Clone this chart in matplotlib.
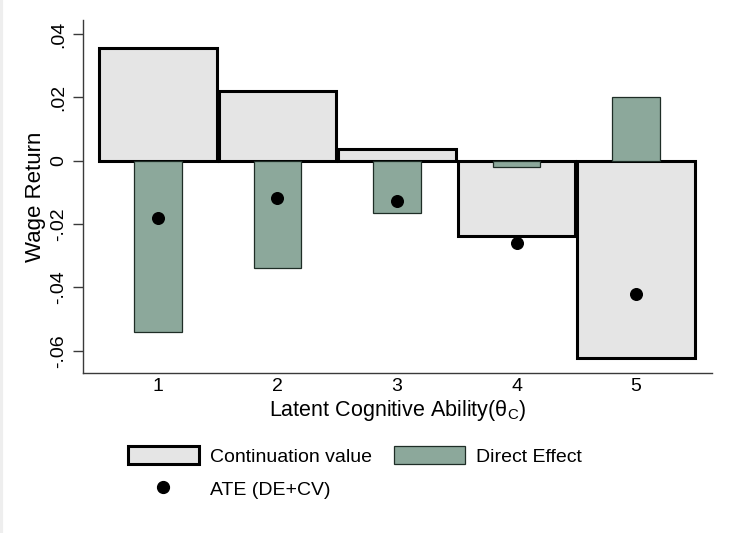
import numpy as np
import matplotlib
matplotlib.use("Agg")
import matplotlib.pyplot as plt
from matplotlib.lines import Line2D
from matplotlib.patches import Patch

plt.rcParams['font.family'] = ['Liberation Sans', 'DejaVu Sans']
plt.rcParams['mathtext.fontset'] = 'custom'
plt.rcParams['mathtext.rm'] = 'Liberation Sans'
plt.rcParams['mathtext.it'] = 'Liberation Sans:italic'

# wage return decomposition by latent cognitive ability quintile
quintiles = [1, 2, 3, 4, 5]
continuation_value = [0.0357, 0.0220, 0.0037, -0.0237, -0.0622]
direct_effect = [-0.0542, -0.0340, -0.0164, -0.0019, 0.0202]
ate = [-0.0181, -0.0118, -0.0126, -0.0261, -0.0422]

yticks = [-0.06, -0.04, -0.02, 0, 0.02, 0.04]
ytick_labels = ["-.06", "-.04", "-.02", "0", ".02", ".04"]

cv_color = "#e5e5e5"
de_color = "#8ca89b"

fig = plt.figure(figsize=(7.31, 5.33), dpi=100)
ax = fig.add_axes([0.1142, 0.3007, 0.8594, 0.6618])

ax.bar(quintiles, continuation_value, width=0.98, color=cv_color,
       edgecolor="black", linewidth=2.2, zorder=2)
ax.bar(quintiles, direct_effect, width=0.4, color=de_color,
       edgecolor="#1e2d26", linewidth=0.9, zorder=3)
ax.scatter(quintiles, ate, s=70, color="black", zorder=4)

ax.set_xlim(0.377, 5.633)
ax.set_ylim(-0.0669, 0.0444)
ax.set_xticks(quintiles)
ax.set_yticks(yticks)
ax.set_yticklabels(ytick_labels, rotation=90, va="center")

for side in ["top", "right"]:
    ax.spines[side].set_visible(False)
for side in ["left", "bottom"]:
    ax.spines[side].set_color("#3a3a3a")
    ax.spines[side].set_linewidth(1.0)
ax.tick_params(axis="y", length=7.2, width=1.0, color="#3a3a3a",
               labelsize=14, pad=4.5)
ax.tick_params(axis="x", length=0, labelsize=14, pad=4)

ax.set_ylabel("Wage Return", fontsize=16, labelpad=3)
ax.set_xlabel(r"Latent Cognitive Ability(θ$_{\mathrm{C}}$)", fontsize=15.5,
              labelpad=2)

handles = [
    Patch(facecolor=cv_color, edgecolor="black", linewidth=2.2),
    Line2D([], [], marker="o", linestyle="none", color="black", markersize=8.5),
    Patch(facecolor=de_color, edgecolor="#1e2d26", linewidth=0.9),
]
labels = ["Continuation value", "ATE (DE+CV)", "Direct Effect"]
fig.legend(handles, labels, ncol=2, loc="upper left",
           bbox_to_anchor=(128 / 731, 1 - 446 / 533), frameon=False,
           fontsize=14, borderpad=0, borderaxespad=0, handlelength=3.65,
           handleheight=1.05, handletextpad=0.58, columnspacing=1.1,
           labelspacing=0.72)

# faint left border line of the graph region
fig.add_artist(Line2D([0.002, 0.002], [0, 1], color="#eeeeee", linewidth=3,
                      transform=fig.transFigure))

fig.savefig("out.png", dpi=100)
